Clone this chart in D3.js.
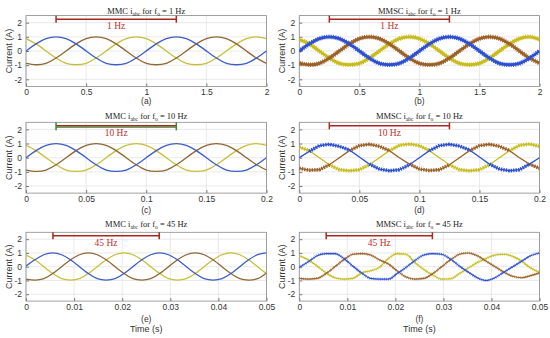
<!DOCTYPE html>
<html><head><meta charset="utf-8">
<script src="https://cdn.jsdelivr.net/npm/d3@7"></script>
<style>body{margin:0;background:#fff}</style></head>
<body><svg id="c" width="550" height="338"></svg>
<script>
// ---- time samples ----
const tA = [0,.0833,.1667,.25,.3333,.4167,.5,.5833,.6667,.75,.8333,.9167,1,1.0833,1.1667,1.25,1.3333,1.4167,1.5,1.5833,1.6667,1.75,1.8333,1.9167,2];
const tC = [0,.00833,.01667,.025,.03333,.04167,.05,.05833,.06667,.075,.08333,.09167,.1,.10833,.11667,.125,.13333,.14167,.15,.15833,.16667,.175,.18333,.19167,.2];
const tE = [0,.00185,.0037,.00556,.00741,.00926,.01111,.01296,.01481,.01667,.01852,.02037,.02222,.02407,.02593,.02778,.02963,.03148,.03333,.03519,.03704,.03889,.04074,.04259,.04444,.0463,.04815,.05];

// ---- (a) MMC 1 Hz ----
const aBlue   = [0,.5,.87,1,.87,.5,0,-.5,-.87,-.97,-.87,-.5,0,.5,.87,1,.87,.5,0,-.5,-.87,-.97,-.87,-.5,0];
const aYellow = [.87,.5,0,-.5,-.87,-.97,-.87,-.5,0,.5,.87,1,.87,.5,0,-.5,-.87,-.97,-.87,-.5,0,.5,.87,1,.87];
const aBrown  = [-.87,-.97,-.87,-.5,0,.5,.87,1,.87,.5,0,-.5,-.87,-.97,-.87,-.5,0,.5,.87,1,.87,.5,0,-.5,-.87];
// ---- (b) MMSC 1 Hz ----
const bBlue   = [0,.5,.87,1,.87,.5,0,-.5,-.87,-.97,-.87,-.5,0,.5,.87,1,.87,.5,0,-.5,-.87,-.97,-.87,-.5,0];
const bYellow = [.8,.5,0,-.5,-.87,-.97,-.87,-.5,0,.5,.87,1,.87,.5,0,-.5,-.87,-.97,-.87,-.5,0,.5,.87,1,.82];
const bBrown  = [-.85,-.97,-.87,-.5,0,.5,.87,1,.87,.5,0,-.5,-.87,-.97,-.87,-.5,0,.5,.87,1,.87,.5,0,-.5,-.85];
// ---- (c) MMC 10 Hz ----
const cBlue   = [0,.5,.87,1,.87,.5,0,-.5,-.87,-.97,-.87,-.5,0,.5,.87,1,.87,.5,0,-.5,-.87,-.97,-.87,-.5,0];
const cYellow = [.87,.5,0,-.5,-.87,-.97,-.87,-.5,0,.5,.87,1,.87,.5,0,-.5,-.87,-.97,-.87,-.5,0,.5,.87,1,.87];
const cBrown  = [-.87,-.97,-.87,-.5,0,.5,.87,1,.87,.5,0,-.5,-.87,-.97,-.87,-.5,0,.5,.87,1,.87,.5,0,-.5,-.87];
// ---- (d) MMSC 10 Hz ----
const dBlue   = [0,.45,.85,.95,.8,.55,.05,-.45,-.8,-.92,-.85,-.5,0,.5,.85,.95,.82,.55,.05,-.45,-.8,-.92,-.85,-.45,0];
const dYellow = [.75,.5,0,-.5,-.85,-.92,-.85,-.5,0,.5,.87,.97,.85,.5,0,-.5,-.85,-.92,-.85,-.5,0,.5,.87,.97,.8];
const dBrown  = [-.75,-.88,-.85,-.5,0,.5,.85,.95,.8,.5,0,-.45,-.8,-.9,-.85,-.5,0,.5,.85,.95,.8,.5,0,-.45,-.75];
// ---- (e) MMC 45 Hz ----
const eBlue   = [.05,.5,.87,1,.87,.5,0,-.5,-.87,-.97,-.87,-.5,0,.5,.87,1,.87,.5,0,-.5,-.87,-.97,-.87,-.5,0,.5,.87,1];
const eYellow = [.85,.5,0,-.5,-.87,-.97,-.87,-.5,0,.5,.87,1,.87,.5,0,-.5,-.87,-.97,-.87,-.5,0,.5,.87,1,.87,.5,0,-.5];
const eBrown  = [-.9,-.97,-.87,-.5,0,.5,.87,1,.87,.5,0,-.5,-.87,-.97,-.87,-.5,0,.5,.87,1,.87,.5,0,-.5,-.87,-.97,-.87,-.45];
// ---- (f) MMSC 45 Hz ----
const fBlue   = [-.05,.35,.8,.95,.95,.6,.05,-.45,-.85,-.9,-.9,-.5,-.05,.45,.85,.95,.9,.55,.05,-.4,-.8,-1,-.8,-.4,0,.4,.8,1];
const fYellow = [.8,.5,.05,-.45,-.8,-.9,-.85,-.45,-.3,-.05,.6,.95,.9,.3,-.2,-.6,-.9,-.88,-.5,-.1,.3,.6,.85,.9,.75,.4,-.1,-.4];
const fBrown  = [-.85,-.9,-.85,-.5,0,.5,.9,.95,.85,.5,.2,-.3,-.75,-.9,-.85,-.5,0,.5,.9,1,.8,.4,0,-.4,-.7,-.8,-.65,-.45];

// ---- ticks & labels ----
const yTicks = [-2,-1,0,1,2];
const xTicks1 = [0,0.5,1,1.5,2];
const xTicks10 = [0,0.05,0.1,0.15,0.2];
const xTicks45 = [0,0.01,0.02,0.03,0.04,0.05];
const titles = [["MMC","1"],["MMSC","1"],["MMC","10"],["MMSC","10"],["MMC","45"],["MMSC","45"]];
const captions = ["(a)","(b)","(c)","(d)","(e)","(f)"];
const brackets = [[0.25,1.25,"1 Hz"],[0.25,1.25,"1 Hz"],[0.025,0.125,"10 Hz"],[0.025,0.125,"10 Hz"],[0.0056,0.0277,"45 Hz"],[0.0056,0.0277,"45 Hz"]];

const svg = d3.select("#c");
const L = {x0:26, x1:266.5}, R = {x0:299.3, x1:539.5};
const rows = [{y0:15.6,y1:86.4,tt:14,cap:104},{y0:122.3,y1:193.1,tt:119,cap:212.5},{y0:232.3,y1:301.1,tt:227,cap:322}];

const mmcCol = {b:"#3d5cc5", o:"#906634", y:"#c6bf3a"};
const mmscCol = {b:"#2d50d2", o:"#9c6128", y:"#c7bc1c"};

const panels = [
 {col:L,row:0,t:tA,s:[aYellow,aBrown,aBlue],xt:xTicks1,xd:[0,2],kind:"mmc"},
 {col:R,row:0,t:tA,s:[bYellow,bBrown,bBlue],xt:xTicks1,xd:[0,2],kind:"b"},
 {col:L,row:1,t:tC,s:[cYellow,cBrown,cBlue],xt:xTicks10,xd:[0,0.2],kind:"mmc",green:true},
 {col:R,row:1,t:tC,s:[dYellow,dBrown,dBlue],xt:xTicks10,xd:[0,0.2],kind:"d"},
 {col:L,row:2,t:tE,s:[eYellow,eBrown,eBlue],xt:xTicks45,xd:[0,0.05],kind:"mmc"},
 {col:R,row:2,t:tE,s:[fYellow,fBrown,fBlue],xt:xTicks45,xd:[0,0.05],kind:"f"}
];

panels.forEach((p,i)=>{
  const r = rows[p.row];
  const x = d3.scaleLinear().domain(p.xd).range([p.col.x0,p.col.x1]);
  const y = d3.scaleLinear().domain([-2.5,2.5]).range([r.y1,r.y0]);
  const g = svg.append("g");
  const cid = "clip"+i;
  svg.append("clipPath").attr("id",cid).append("rect")
    .attr("x",p.col.x0).attr("y",r.y0).attr("width",p.col.x1-p.col.x0).attr("height",r.y1-r.y0);
  // grid
  g.selectAll(".gx").data(p.xt).join("line").attr("x1",d=>x(d)).attr("x2",d=>x(d))
    .attr("y1",r.y0).attr("y2",r.y1).attr("stroke","#e3e3e3").attr("stroke-width",0.8);
  g.selectAll(".gy").data(yTicks).join("line").attr("y1",d=>y(d)).attr("y2",d=>y(d))
    .attr("x1",p.col.x0).attr("x2",p.col.x1).attr("stroke","#e3e3e3").attr("stroke-width",0.8);
  // axes
  const ax = g.append("g").attr("transform",`translate(0,${r.y1})`)
    .call(d3.axisBottom(x).tickValues(p.xt).tickFormat(d=>String(d)).tickSize(-3).tickPadding(3));
  const ay = g.append("g").attr("transform",`translate(${p.col.x0},0)`)
    .call(d3.axisLeft(y).tickValues(yTicks).tickFormat(d=>String(d)).tickSize(-3).tickPadding(4));
  [ax,ay].forEach(a=>{
    a.select(".domain").remove();
    a.selectAll("line").attr("stroke","#777");
    a.selectAll("text").attr("font-family","'Liberation Sans',Arial,sans-serif").attr("font-size",8.5).attr("fill","#333");
  });
  g.append("rect").attr("x",p.col.x0).attr("y",r.y0).attr("width",p.col.x1-p.col.x0).attr("height",r.y1-r.y0)
    .attr("fill","none").attr("stroke","#8a8a8a").attr("stroke-width",0.8);

  // curves
  const cols = p.kind==="mmc" ? [mmcCol.y,mmcCol.o,mmcCol.b] : [mmscCol.y,mmscCol.o,mmscCol.b];
  const cg = g.append("g").attr("clip-path",`url(#${cid})`);
  p.s.forEach((vals,k)=>{
    const pts = vals.map((v,j)=>[p.t[j],v]);
    const curve = p.kind==="d" ? d3.curveLinear : (p.kind==="f" ? d3.curveMonotoneX : d3.curveNatural);
    const line = d3.line().x(d=>x(d[0])).y(d=>y(d[1])).curve(curve);
    let w = 1.3;
    if (p.kind==="b") w = 2.8;
    if (p.kind==="f") w = 1.1;
    cg.append("path").attr("d",line(pts)).attr("fill","none").attr("stroke",cols[k]).attr("stroke-width",w);
    if (p.kind==="b") {
      cg.append("path").attr("d",line(pts)).attr("fill","none").attr("stroke",cols[k])
        .attr("stroke-width",4.6).attr("stroke-dasharray","0.9 1.3");
    }
    if (p.kind==="d") {
      const lineR = d3.line().defined(d=>Math.abs(d[1])>=0.45).x(d=>x(d[0])).y(d=>y(d[1])).curve(d3.curveLinear);
      cg.append("path").attr("d",lineR(pts)).attr("fill","none").attr("stroke",cols[k])
        .attr("stroke-width",3.6).attr("stroke-dasharray","1.4 1.1");
    }
    if (p.kind==="f") {
      cg.append("path").attr("d",line(pts)).attr("fill","none").attr("stroke",cols[k])
        .attr("stroke-width",2.6).attr("stroke-dasharray","0.7 1.2").attr("stroke-opacity",0.85);
    }
  });

  // bracket
  const [b0,b1,bl] = brackets[i];
  const by = y(2.25);
  if (p.green) {
    g.append("line").attr("x1",x(b0)).attr("x2",x(b1)).attr("y1",by+1.3).attr("y2",by+1.3).attr("stroke","#2e8b2e").attr("stroke-width",1.4);
  }
  g.append("line").attr("x1",x(b0)).attr("x2",x(b1)).attr("y1",by).attr("y2",by).attr("stroke","#a8281e").attr("stroke-width",1.5);
  [b0,b1].forEach(bv=>{
    g.append("line").attr("x1",x(bv)).attr("x2",x(bv)).attr("y1",by-3.5).attr("y2",by+(p.green?4.5:3.5))
      .attr("stroke",p.green?"#2e8b2e":"#a8281e").attr("stroke-width",1.5);
  });
  g.append("text").attr("x",x((b0+b1)/2)).attr("y",by+10).attr("text-anchor","middle")
    .attr("font-family","'Liberation Serif','Times New Roman',serif").attr("font-size",9.5).attr("fill","#c0302a").text(bl);

  // title
  const cx = (p.col.x0+p.col.x1)/2;
  const tt = svg.append("text").attr("x",cx).attr("y",r.tt).attr("text-anchor","middle")
    .attr("font-family","'Liberation Serif','Times New Roman',serif").attr("font-size",8.5).attr("fill","#222");
  tt.append("tspan").text(titles[i][0]+" i");
  tt.append("tspan").attr("font-size",5.5).attr("dy",2).text("abc");
  tt.append("tspan").attr("dy",-2).text(" for f");
  tt.append("tspan").attr("font-size",5.5).attr("dy",2).text("o");
  tt.append("tspan").attr("dy",-2).text(" = "+titles[i][1]+" Hz");

  // caption
  svg.append("text").attr("x",cx).attr("y",r.cap).attr("text-anchor","middle")
    .attr("font-family","'Liberation Sans',Arial,sans-serif").attr("font-size",8.5).attr("fill","#333").text(captions[i]);
  // y label
  const ylx = p.col.x0 - 14.5;
  svg.append("text").attr("transform",`translate(${ylx},${(r.y0+r.y1)/2}) rotate(-90)`).attr("text-anchor","middle")
    .attr("font-family","'Liberation Sans',Arial,sans-serif").attr("font-size",9).attr("fill","#333").text("Current (A)");
  if (p.row===2) {
    svg.append("text").attr("x",cx).attr("y",331.5).attr("text-anchor","middle")
      .attr("font-family","'Liberation Sans',Arial,sans-serif").attr("font-size",9).attr("fill","#333").text("Time (s)");
  }
});
</script></body></html>
